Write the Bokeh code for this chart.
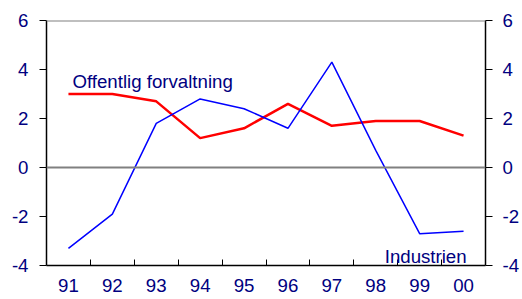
from bokeh.plotting import figure
from bokeh.models import Range1d, LinearAxis, FixedTicker, Span, Label
from bokeh.embed import file_html
from bokeh.resources import INLINE

years = ["91", "92", "93", "94", "95", "96", "97", "98", "99", "00"]
offentlig = [3.0, 3.0, 2.7, 1.2, 1.6, 2.6, 1.7, 1.9, 1.9, 1.3]
industrien = [-3.3, -1.9, 1.8, 2.8, 2.4, 1.6, 4.3, 0.7, -2.7, -2.6]
y_ticks = [-4, -2, 0, 2, 4, 6]
y_tick_labels = ["-4", "-2", "0", "2", "4", "6"]

TEXT = "#000080"
FONT = "Liberation Sans"
SIZE = "14pt"

xs = [i + 0.5 for i in range(len(years))]
bounds = [i for i in range(1, len(years))]

p = figure(width=522, height=299, output_backend="svg", toolbar_location=None, title=None,
           x_range=Range1d(0, len(years)), y_range=Range1d(y_ticks[0], y_ticks[-1]),
           x_axis_type=None, y_axis_type=None,
           min_border_left=46, min_border_right=32, min_border_top=20, min_border_bottom=34)
p.outline_line_color = None
p.xgrid.visible = False
p.ygrid.visible = False
p.background_fill_color = "white"
p.border_fill_color = "white"

# bottom axis: year labels centred in each slot, inward ticks between years
xaxis = LinearAxis(ticker=FixedTicker(ticks=xs, minor_ticks=bounds),
                   major_label_overrides={x: y for x, y in zip(xs, years)})
xaxis.major_tick_line_color = None
xaxis.major_tick_in = 0
xaxis.major_tick_out = 0
xaxis.minor_tick_in = 6
xaxis.minor_tick_out = 0
xaxis.minor_tick_line_color = "black"
xaxis.minor_tick_line_width = 1
xaxis.axis_line_color = "black"
xaxis.axis_line_width = 1.5
xaxis.major_label_standoff = 13
xaxis.major_label_text_font = FONT
xaxis.major_label_text_font_size = SIZE
xaxis.major_label_text_color = TEXT
p.add_layout(xaxis, "below")

for side, standoff in (("left", 11), ("right", 10)):
    ax = LinearAxis(ticker=FixedTicker(ticks=y_ticks),
                    major_label_overrides={t: s for t, s in zip(y_ticks, y_tick_labels)})
    ax.major_tick_in = 0
    ax.major_tick_out = 7
    ax.major_tick_line_color = "black"
    ax.minor_tick_line_color = None
    ax.axis_line_color = "black"
    ax.axis_line_width = 1.5
    ax.major_label_standoff = standoff
    ax.major_label_text_font = FONT
    ax.major_label_text_font_size = SIZE
    ax.major_label_text_color = TEXT
    p.add_layout(ax, side)

p.add_layout(Span(location=y_ticks[-1], dimension="width", line_color="#808080", line_width=2))
p.add_layout(Span(location=0, dimension="width", line_color="#808080", line_width=2))

p.line(xs, offentlig, line_color="#ff0000", line_width=2.5)
p.line(xs, industrien, line_color="#0000ff", line_width=1.5)

p.add_layout(Label(x=0.59, y=3.51, text="Offentlig forvaltning", text_font=FONT,
                   text_font_size=SIZE, text_color=TEXT, text_baseline="alphabetic"))
p.add_layout(Label(x=9.57, y=-3.64, text="Industrien", text_font=FONT,
                   text_font_size=SIZE, text_color=TEXT, text_baseline="alphabetic",
                   text_align="right"))

open("out.html", "w").write(file_html(p, INLINE))
